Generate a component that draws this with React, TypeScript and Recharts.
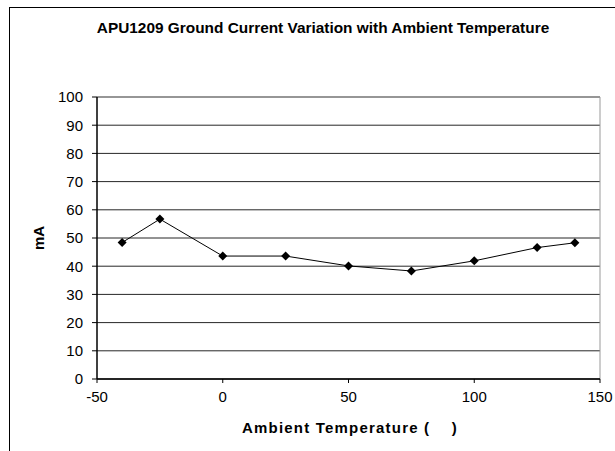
import { LineChart, Line, XAxis, YAxis, CartesianGrid, ReferenceLine } from 'recharts'

const temps = [-40, -25, 0, 25, 50, 75, 100, 125, 140]
const currentMA = [48.4, 56.7, 43.6, 43.6, 40.1, 38.3, 41.9, 46.6, 48.3]
const xTicks = [-50, 0, 50, 100, 150]
const yTicks = [0, 10, 20, 30, 40, 50, 60, 70, 80, 90, 100]

const data = temps.map((t, i) => ({ t, mA: currentMA[i] }))

const font = 'Arial, "Liberation Sans", sans-serif'

function Diamond(props: any) {
  const { cx, cy, index } = props
  if (cx == null || cy == null) return null
  const r = 4.5
  return (
    <path
      key={`d-${index}`}
      d={`M${cx},${cy - r}L${cx + r},${cy}L${cx},${cy + r}L${cx - r},${cy}Z`}
      fill="#000"
    />
  )
}

export default function App() {
  return (
    <div
      style={{
        position: 'fixed',
        left: 9,
        top: 7,
        width: 606,
        height: 444,
        overflow: 'hidden',
        borderLeft: '1px solid #000',
        borderTop: '1px solid #000',
        background: '#fff',
        fontFamily: font,
      }}
    >
      <div
        style={{
          position: 'absolute',
          left: 313,
          top: 11,
          transform: 'translateX(-50%)',
          whiteSpace: 'nowrap',
          fontSize: 15.4,
          fontWeight: 'bold',
        }}
      >
        APU1209 Ground Current Variation with Ambient Temperature
      </div>
      <div
        style={{
          position: 'absolute',
          left: 28,
          top: 230,
          transform: 'translate(-50%, -50%) rotate(-90deg)',
          fontSize: 15,
          fontWeight: 'bold',
        }}
      >
        mA
      </div>
      <div
        style={{
          position: 'absolute',
          left: 340,
          top: 411,
          transform: 'translateX(-50%)',
          fontSize: 15,
          fontWeight: 'bold',
          letterSpacing: 1.2,
          whiteSpace: 'pre',
        }}
      >
        {'Ambient Temperature (    )'}
      </div>
      <LineChart
        width={605}
        height={440}
        data={data}
        margin={{ top: 89, right: 15, left: 27, bottom: 19 }}
      >
        <CartesianGrid horizontal vertical={false} stroke="#000" strokeOpacity={0.85} />
        <ReferenceLine y={100} stroke="#999" />
        <ReferenceLine x={150} stroke="#999" />
        <XAxis
          dataKey="t"
          type="number"
          domain={[-50, 150]}
          ticks={xTicks}
          interval={0}
          height={50}
          tickSize={4}
          tickMargin={8}
          axisLine={{ stroke: '#000', strokeWidth: 1.5 }}
          tickLine={{ stroke: '#000' }}
          tick={{ fill: '#000', fontSize: 15, fontFamily: font }}
        />
        <YAxis
          type="number"
          domain={[0, 100]}
          ticks={yTicks}
          interval={0}
          width={60}
          tickSize={5}
          tickMargin={9}
          axisLine={{ stroke: '#000', strokeWidth: 1.5 }}
          tickLine={{ stroke: '#000' }}
          tick={{ fill: '#000', fontSize: 15, fontFamily: font }}
        />
        <Line
          dataKey="mA"
          stroke="#000"
          strokeWidth={1}
          dot={Diamond}
          activeDot={false}
          isAnimationActive={false}
        />
      </LineChart>
    </div>
  )
}
